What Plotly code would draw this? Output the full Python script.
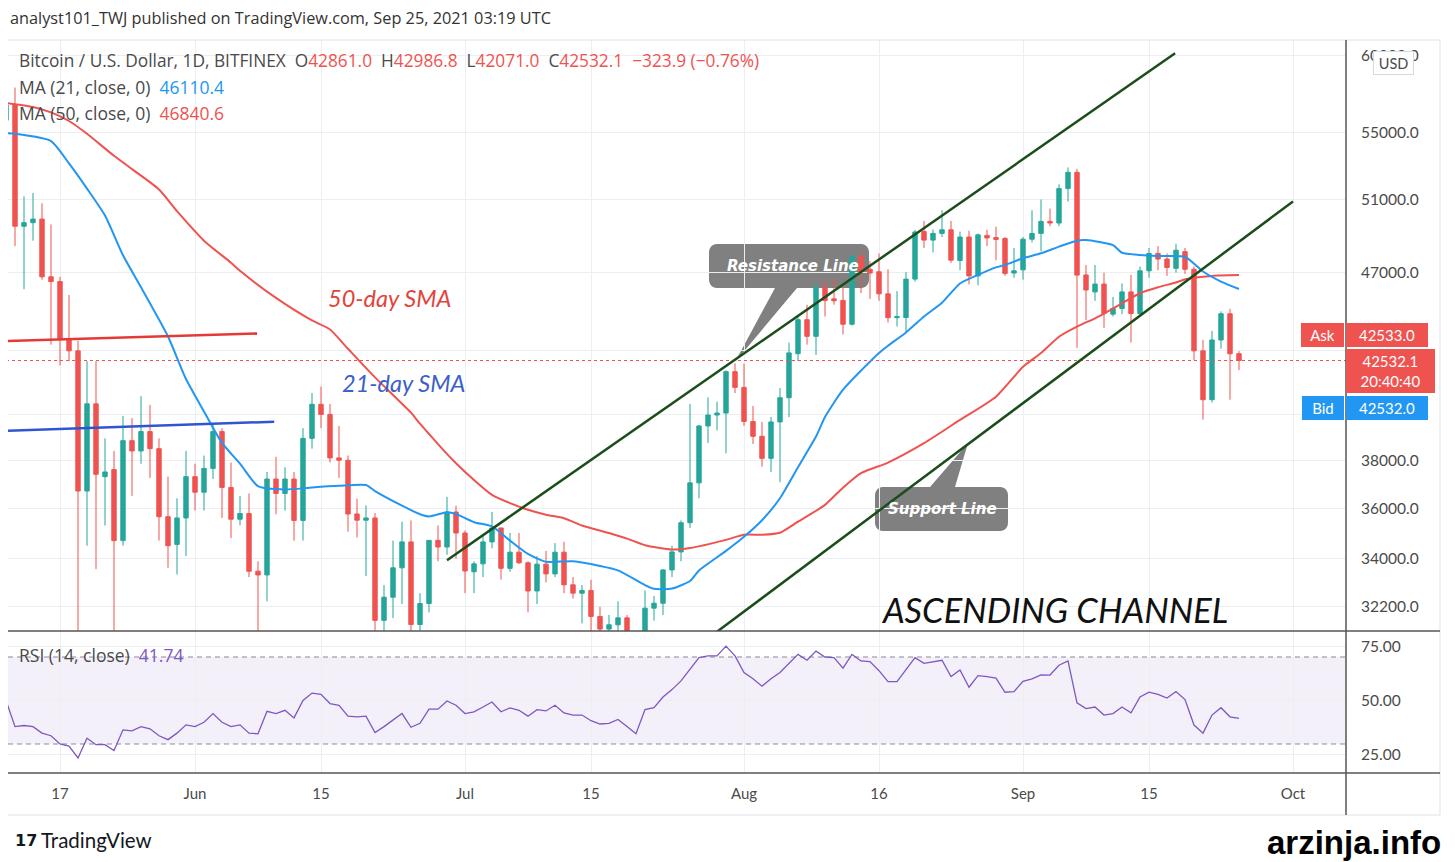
import math
import pandas as pd
import plotly.graph_objects as go

# ---------------- data ----------------
dates = pd.date_range("2021-05-11", "2021-09-25", freq="D")

opens = [55800, 56770, 49500, 49700, 49900, 46750, 46500, 43550, 43000, 36700, 40500, 37300, 37600, 34700, 38850, 38400, 39250, 38500, 35650, 34550, 35600,
         37300, 36650, 37650, 39250, 36850, 35550, 35780, 33520, 33380, 37200, 36600, 37200, 35500, 38950, 40480, 40020, 38100, 38000, 35760, 35510, 35600, 31710, 32550, 33650, 34650, 31560, 32320, 34710, 34450, 35840,
         35000, 33500, 33800, 34650, 35200, 33630, 34250, 33840, 32780, 33790, 33420, 34250, 33010, 32700, 32800, 31850, 31400, 31550, 31800, 30800, 29800, 32150, 32330, 33570, 34260, 35410, 37040, 39500, 39990, 40080, 42000,
         41260, 39700, 39040, 38080, 39680, 40780, 42860, 44540, 43710, 46200, 45600, 45520, 44310, 47830, 47150, 47020, 45860, 44640, 44650, 46630, 49210, 48730, 49100, 49300, 47620, 48900, 46800, 48990, 48870, 48820, 46950,
         47120, 48780, 49100, 49770, 49680, 51650, 52610, 46850, 45960, 46370, 44820, 45110, 45960, 44850, 47070, 48000, 47700, 47200, 48100, 47150, 43000, 40690, 43530, 44840, 42861.0]
highs = [56900, 57900, 51200, 51400, 50800, 49600, 46750, 45800, 43500, 42500, 42500, 38950, 38400, 39950, 39850, 40850, 40450, 38950, 37300, 36400, 38400,
         37850, 38200, 39550, 39400, 37900, 36500, 36600, 33900, 37500, 38150, 37700, 37500, 39400, 41000, 41300, 40500, 39500, 38200, 36380, 36110, 35800, 33000, 34700, 35450, 35500, 32700, 34700, 35300, 36460, 36100,
         35100, 33900, 34900, 35840, 35200, 35000, 35000, 33900, 34100, 34300, 34600, 34650, 33300, 33000, 33200, 32200, 31900, 32400, 31900, 31000, 32800, 32600, 33600, 34500, 35500, 40500, 39550, 40800, 40600, 42060, 42400,
         42380, 40400, 39680, 39900, 41230, 43400, 44700, 45300, 46400, 46600, 46700, 46200, 47900, 48150, 47600, 48000, 47150, 46000, 47000, 49300, 49800, 49320, 50400, 49800, 49200, 49250, 49100, 49300, 49480, 48900, 48300,
         48900, 50400, 51020, 50500, 51900, 52900, 52820, 47380, 47380, 46970, 45700, 46400, 46850, 47300, 48300, 48400, 48000, 48530, 48300, 47300, 43530, 43980, 44960, 45090, 42986.8]
lows = [54100, 48400, 46100, 48700, 46600, 43300, 42300, 42500, 30000, 34500, 33600, 35300, 31200, 34500, 36500, 37850, 37250, 34700, 33650, 33400, 34100,
        35900, 35900, 37200, 35600, 34800, 35300, 33300, 31000, 32400, 35750, 35900, 34700, 34700, 38500, 39400, 37900, 37250, 35050, 34820, 33340, 31300, 28800, 31790, 32300, 31300, 30200, 32000, 33900, 34150, 34000,
        32700, 32700, 33300, 34400, 33200, 33500, 33800, 32000, 32300, 33100, 33300, 32700, 32500, 31600, 31200, 31100, 31200, 31200, 30500, 29300, 29500, 31700, 31900, 33300, 33900, 35200, 36400, 38750, 39300, 38300, 41000,
        39500, 38700, 37720, 37500, 37070, 39900, 42500, 43300, 42800, 44700, 45300, 43800, 44250, 45900, 45600, 45500, 44400, 44200, 43870, 46500, 48300, 48060, 48900, 47500, 47100, 46350, 46300, 48400, 47630, 46800, 46700,
        46600, 48600, 48120, 49500, 49500, 50900, 43140, 44520, 45500, 44120, 44700, 44820, 43400, 44700, 46700, 47100, 46800, 46970, 46900, 42560, 39780, 40560, 43100, 40690, 42071.0]
closes = [56770, 49500, 49700, 49900, 46750, 46500, 43550, 43000, 36700, 40500, 37400, 37500, 34700, 38850, 38400, 39250, 38500, 35650, 34500, 35600, 37300,
          36650, 37650, 39250, 36850, 35550, 35780, 33520, 33380, 37200, 36600, 37200, 35500, 38950, 40480, 40020, 38100, 38000, 35760, 35510, 35600, 31710, 32550, 33650, 34650, 31560, 32320, 34710, 34450, 35840, 35000,
          33530, 33800, 34650, 35200, 33630, 34250, 33840, 32780, 33790, 33420, 34250, 33010, 32700, 32800, 31850, 31400, 31550, 31800, 30800, 29800, 32150, 32330, 33570, 34260, 35410, 37040, 39500, 39990, 40080, 42000, 41260,
          39700, 39040, 38080, 39680, 40780, 42900, 44540, 43710, 46200, 45520, 45500, 44310, 47830, 47020, 46950, 45860, 44640, 44700, 46630, 49180, 48730, 49100, 49300, 47640, 48900, 46800, 49020, 48850, 48770, 46930, 47070,
          48780, 49100, 49770, 49680, 51650, 52610, 46840, 46060, 46370, 44850, 45110, 45960, 44850, 47070, 48000, 47700, 47250, 48180, 47150, 43000, 40690, 43530, 44840, 42856.0, 42532.1]

rsi = [50, 38, 38.5, 38, 35, 33.8, 30, 29, 23.6, 32.7, 29.7, 29.7, 27, 36.5, 36, 38, 37, 33.8, 32, 35, 38.8,
       38, 40, 44, 40, 38, 38.8, 35, 34.7, 45, 44, 45.5, 42, 50, 53.4, 52.8, 48.6, 47.8, 42.8, 42.5, 42.8, 35.3, 38, 41, 44, 37.7, 39.5, 46, 46, 49.8, 47.8,
       44, 44.8, 47, 49.3, 44.8, 46.6, 45.5, 42.8, 45.8, 45.2, 47.8, 44.3, 43.3, 43.3, 40.7, 39.2, 39.5, 41.3, 38, 34.7, 45.8, 46.7, 51.6, 55, 59, 64.4, 69.7, 70.5, 70.5, 75, 70.5,
       62.9, 60, 56.6, 60, 62.9, 67, 71.2, 68.5, 72.7, 70, 69.7, 64.9, 71.2, 68.2, 67.9, 63.7, 58.7, 58.7, 64, 69.7, 67.1, 67.9, 68.5, 61, 64, 56.1, 61.4, 61, 60.3, 53.8, 54.1,
       58.8, 59.9, 61.8, 61.7, 66.2, 68.2, 48.9, 46.3, 47, 43.3, 44, 47, 44.3, 51.6, 53.8, 52.8, 51.1, 54.1, 50.4, 38.7, 35, 43.3, 46.7, 42.5, 41.74]

# moving averages (day offset from 2021-05-12, value)
ma21_day = [-1, 0, 4, 6, 8, 10, 12, 14, 17, 19, 21, 23, 25, 27, 30, 33, 36, 39, 40, 43, 45, 46, 48, 49, 51, 53, 55, 57, 59, 62, 65, 67, 70, 71, 73, 75, 76, 79, 81, 83, 85, 87, 89, 90, 92, 94, 96, 97, 99, 101, 103, 105, 107, 109, 110, 112, 114, 116, 118, 119, 122, 123, 125, 127, 130, 132, 134, 136]
ma21_val = [55000, 54950, 54500, 53140, 51650, 50100, 47900, 46200, 43700, 41650, 40150, 38750, 37850, 36900, 36760, 36850, 36920, 36950, 36700, 36100, 35750, 35660, 35830, 35760, 35430, 35260, 34700, 34180, 33880, 33900, 33720, 33550, 33000, 32860, 32870, 33150, 33550, 34300, 34850, 35510, 36400, 37700, 39030, 39900, 41150, 42050, 42900, 43250, 43900, 44700, 45400, 46400, 46850, 47250, 47380, 47740, 48010, 48370, 48700, 48730, 48450, 48040, 47920, 47860, 47820, 47030, 46500, 46110.4]
ma50_day = [-1, 2, 4, 6, 8, 11, 13, 16, 18, 21, 24, 25, 29, 33, 35, 37, 40, 44, 45, 47, 49, 51, 53, 55, 57, 59, 61, 63, 66, 68, 70, 73, 75, 79, 81, 83, 85, 87, 90, 92, 94, 97, 101, 105, 109, 112, 114, 116, 118, 120, 121, 123, 125, 127, 129, 130, 133, 136]
ma50_val = [56900, 56640, 56300, 55750, 54950, 53600, 52800, 51600, 50350, 48700, 47500, 47070, 45650, 44500, 44050, 43100, 41730, 40100, 39600, 38700, 37870, 37160, 36540, 36200, 35930, 35730, 35590, 35300, 35000, 34780, 34520, 34350, 34410, 34730, 34930, 34930, 35010, 35450, 36130, 36840, 37450, 37900, 38740, 39770, 40830, 42230, 42890, 43690, 44190, 44610, 44850, 45370, 45890, 46200, 46450, 46620, 46800, 46840.6]

# analyst drawings
resist_x = ["2021-06-29 00:00", "2021-09-17 21:36"]
resist_y = [33940, 60180]
support_x = ["2021-07-27 02:40", "2021-10-01 00:00"]
support_y = [30860, 50910]
red_level_x = ["2021-05-10 21:20", "2021-06-07 21:36"]
red_level_y = [43480, 43850]
blue_level_x = ["2021-05-10 21:20", "2021-06-09 19:12"]
blue_level_y = [39280, 39690]

ask_price, bid_price, countdown = 42533.0, 42532.0, "20:40:40"

price_ticks = [60000, 55000, 51000, 47000, 43000, 40000, 38000, 36000, 34000, 32200]
price_labels = ["60000.0", "55000.0", "51000.0", "47000.0", "", "", "38000.0", "36000.0", "34000.0", "32200.0"]
rsi_ticks = [75, 50, 25]
date_ticks = ["2021-05-17", "2021-06-01", "2021-06-15", "2021-07-01", "2021-07-15",
              "2021-08-01", "2021-08-16", "2021-09-01", "2021-09-15", "2021-10-01"]
date_labels = ["17", "Jun", "15", "Jul", "15", "Aug", "16", "Sep", "15", "Oct"]

# ---------------- style / geometry ----------------
OFF = 8                      # page offset of the figure (browser body margin)
W, H = 1455 - OFF, 862 - OFF
L, R, T, B = 0, 109, 32, 89
PW, PH = W - L - R, H - T - B
GREEN, RED = "#26a69a", "#ef5350"
BLUE_MA, RED_MA = "#2196f3", "#ef5350"
GRID = "#eceef2"
TXT = "#4a4a4a"
FONT = "Lato, sans-serif"
LFONT = "Open Sans, sans-serif"


def px(x):
    """page pixel x -> paper"""
    return (x - OFF - L) / PW


def py(y):
    """page pixel y -> paper"""
    return (H - B - (y - OFF)) / PH


split = py(631)
xrange_ = ["2021-05-11 05:20", "2021-10-06 21:20"]
y_lo, y_hi = 31331, 61094
base = pd.Timestamp("2021-05-12")
ma21_x = [base + pd.Timedelta(days=d) for d in ma21_day]
ma50_x = [base + pd.Timedelta(days=d) for d in ma50_day]

fig = go.Figure()
fig.add_trace(go.Candlestick(
    x=dates, open=opens, high=highs, low=lows, close=closes,
    increasing=dict(line=dict(color=GREEN, width=1), fillcolor=GREEN),
    decreasing=dict(line=dict(color=RED, width=1), fillcolor=RED),
    whiskerwidth=0, hoverinfo="skip", xaxis="x", yaxis="y"))
fig.add_trace(go.Scatter(x=ma50_x, y=ma50_val, mode="lines", line=dict(color=RED_MA, width=2, shape="spline", smoothing=0.6),
                         xaxis="x", yaxis="y", hoverinfo="skip"))
fig.add_trace(go.Scatter(x=ma21_x, y=ma21_val, mode="lines", line=dict(color=BLUE_MA, width=2, shape="spline", smoothing=0.6),
                         xaxis="x", yaxis="y", hoverinfo="skip"))
fig.add_trace(go.Scatter(x=["2021-05-01", "2021-10-10"], y=[closes[-1], closes[-1]], mode="lines",
                         line=dict(color=RED, width=1, dash="dot"), xaxis="x", yaxis="y", hoverinfo="skip"))
fig.add_trace(go.Scatter(x=red_level_x, y=red_level_y, mode="lines", line=dict(color="#e53935", width=2.5),
                         xaxis="x", yaxis="y", hoverinfo="skip"))
fig.add_trace(go.Scatter(x=blue_level_x, y=blue_level_y, mode="lines", line=dict(color="#2f55d4", width=2.5),
                         xaxis="x", yaxis="y", hoverinfo="skip"))
fig.add_trace(go.Scatter(x=resist_x, y=resist_y, mode="lines", line=dict(color="#1b4d1b", width=2.5),
                         xaxis="x", yaxis="y", hoverinfo="skip"))
fig.add_trace(go.Scatter(x=support_x, y=support_y, mode="lines", line=dict(color="#1b4d1b", width=2.5),
                         xaxis="x", yaxis="y", hoverinfo="skip"))
fig.add_trace(go.Scatter(x=dates, y=rsi, mode="lines", line=dict(color="#7e57c2", width=1.3),
                         xaxis="x2", yaxis="y2", hoverinfo="skip"))

tickfont = dict(family=FONT, size=15.5, color=TXT)
fig.update_layout(
    width=W, height=H, margin=dict(l=L, r=R, t=T, b=B, autoexpand=False),
    paper_bgcolor="white", plot_bgcolor="white", showlegend=False,
    font=dict(family=FONT, color=TXT, size=14),
    xaxis=dict(type="date", range=xrange_, domain=[0, 1], anchor="y", showticklabels=False,
               tickvals=date_ticks, showgrid=True, gridcolor=GRID, gridwidth=1, zeroline=False,
               showline=False, ticks="", rangeslider=dict(visible=False), fixedrange=True),
    yaxis=dict(type="log", range=[math.log10(y_lo), math.log10(y_hi)], domain=[split, 1], side="right",
               anchor="x", tickvals=price_ticks, ticktext=price_labels,
               showgrid=True, gridcolor=GRID, ticks="outside", ticklen=11, tickcolor="rgba(0,0,0,0)",
               tickfont=tickfont, zeroline=False, showline=False, fixedrange=True),
    xaxis2=dict(type="date", range=xrange_, domain=[0, 1], anchor="y2", matches="x",
                tickvals=date_ticks, ticktext=date_labels, showgrid=True, gridcolor=GRID,
                ticks="outside", ticklen=7, tickcolor="rgba(0,0,0,0)", tickfont=dict(family=FONT, size=15, color=TXT),
                zeroline=False, showline=False, fixedrange=True),
    yaxis2=dict(range=[16.67, 81.95], domain=[0, split], side="right", anchor="x2",
                tickvals=rsi_ticks, ticktext=[f"{v:.2f}" for v in rsi_ticks], showgrid=True, gridcolor=GRID,
                ticks="outside", ticklen=11, tickcolor="rgba(0,0,0,0)", tickfont=tickfont,
                zeroline=False, showline=False, fixedrange=True),
)


def rounded_poly(x0, y0, x1, y1, r, top_ptr=None, bottom_ptr=None):
    pts = []

    def arc(cx, cy, a0, a1):
        for k in range(7):
            a = math.radians(a0 + (a1 - a0) * k / 6)
            pts.append((cx + r * math.cos(a), cy + r * math.sin(a)))
    arc(x0 + r, y0 + r, 180, 270)
    if top_ptr:
        pts.extend(top_ptr)
    arc(x1 - r, y0 + r, 270, 360)
    arc(x1 - r, y1 - r, 0, 90)
    if bottom_ptr:
        pts.extend(bottom_ptr)
    arc(x0 + r, y1 - r, 90, 180)
    return "M " + " L ".join(f"{px(x):.5f},{py(y):.5f}" for x, y in pts) + " Z"


shapes = []
shapes.append(dict(type="rect", xref="paper", yref="y2", x0=0, x1=1, y0=30, y1=70,
                   fillcolor="rgba(126,87,194,0.09)", line=dict(width=0), layer="below"))
for lv in (70, 50, 30):
    shapes.append(dict(type="line", xref="paper", yref="y2", x0=0, x1=1, y0=lv, y1=lv,
                       line=dict(color="#8a8d96", width=1, dash="5px,4px"), layer="below"))
shapes.append(dict(type="path", xref="paper", yref="paper",
                   path=rounded_poly(709, 244, 869, 288, 8, bottom_ptr=[(797, 288), (735, 362), (775, 288)]),
                   fillcolor="#808080", line=dict(width=0), layer="between"))
shapes.append(dict(type="path", xref="paper", yref="paper",
                   path=rounded_poly(875, 487, 1008, 531, 8, top_ptr=[(930, 487), (968, 443), (955, 487)]),
                   fillcolor="#808080", line=dict(width=0), layer="between"))
shapes.append(dict(type="rect", xref="paper", yref="paper", x0=px(5), x1=px(1440), y0=py(815), y1=1,
                   line=dict(color="#dfe2e8", width=1), fillcolor="rgba(0,0,0,0)", layer="above"))
shapes.append(dict(type="line", xref="paper", yref="paper", x0=0, x1=px(1440), y0=split, y1=split,
                   line=dict(color="#555555", width=1.5), layer="above"))
shapes.append(dict(type="line", xref="paper", yref="paper", x0=0, x1=px(1440), y0=0, y1=0,
                   line=dict(color="#555555", width=1.5), layer="above"))
shapes.append(dict(type="line", xref="paper", yref="paper", x0=1, x1=1, y0=py(815), y1=1,
                   line=dict(color="#555555", width=1.5), layer="above"))
fig.update_layout(shapes=shapes)

chg = closes[-1] - closes[-2]
pct = chg / closes[-2] * 100
sp = "\u00a0\u00a0"


def red(s):
    return f"<span style='color:{RED}'>{s}</span>"


legend1 = ("Bitcoin / U.S. Dollar, 1D, BITFINEX" + sp + "O" + red(f"{opens[-1]:.1f}") + sp + "H" + red(f"{highs[-1]:.1f}")
           + sp + "L" + red(f"{lows[-1]:.1f}") + sp + "C" + red(f"{closes[-1]:.1f}") + sp
           + red(f"\u2212{abs(chg):.1f} (\u2212{abs(pct):.2f}%)"))
legend2 = f"MA (21, close, 0)\u00a0\u00a0<span style='color:{BLUE_MA}'>{ma21_val[-1]:.1f}</span>"
legend3 = f"MA (50, close, 0)\u00a0\u00a0<span style='color:{RED_MA}'>{ma50_val[-1]:.1f}</span>"
legend4 = f"RSI (14, close)\u00a0\u00a0<span style='color:#7e57c2'>{rsi[-1]:.2f}</span>"

ann = []


def text(x, y, s, size=15, color=TXT, xanchor="left", family=LFONT, **kw):
    ann.append(dict(xref="paper", yref="paper", x=px(x), y=py(y), text=s, showarrow=False,
                    xanchor=xanchor, yanchor="middle", font=dict(family=family, size=size, color=color), **kw))


text(8, 18, "analyst101_TWJ published on TradingView.com, Sep 25, 2021 03:19 UTC", size=16.3, color="#333333")
text(17, 61, legend1, size=17.3)
text(17, 87, legend2, size=17.5)
text(17, 113, legend3, size=17.5)
text(17, 655, legend4, size=17.5)
text(390, 298, "<i>50-day SMA</i>", size=23.5, color="#e0443a", xanchor="center", family=FONT)
text(403, 383, "<i>21-day SMA</i>", size=23.5, color="#3a5fcd", xanchor="center", family=FONT)
text(1054, 609, "<i>ASCENDING CHANNEL</i>", size=34.5, color="#111111", xanchor="center", family=FONT)
text(793, 266, "<b><i>Resistance Line</i></b>", size=15, color="white", xanchor="center", family="DejaVu Sans")
text(942, 509, "<b><i>Support Line</i></b>", size=15, color="white", xanchor="center", family="DejaVu Sans")


def box(xc, yc, s, w, h, bg, fg="white", border=None, size=15):
    ann.append(dict(xref="paper", yref="paper", x=px(xc), y=py(yc), text=s, showarrow=False,
                    xanchor="center", yanchor="middle", width=w, height=h, bgcolor=bg, borderpad=2,
                    bordercolor=border or bg, borderwidth=1 if border else 0, align="center",
                    font=dict(family=FONT, size=size, color=fg)))


box(1322, 335, "Ask", 39, 20, RED)
box(1387, 335, f"{ask_price:.1f}", 78, 20, RED)
box(1390.5, 371, f"{closes[-1]:.1f}<br>{countdown}", 85, 40, RED)
box(1322.5, 408, "Bid", 38, 20, "#2196f3")
box(1387, 408, f"{bid_price:.1f}", 78, 20, "#2196f3")
box(1393, 63, "USD", 35, 18, "white", fg=TXT, border="#d6d9df", size=14.5)

text(13, 840, "<b>17</b>", size=16, color="#131722", family="DejaVu Sans")
text(39, 840, "TradingView", size=20.5, color="#131722", family=FONT)
text(1354, 843, "<b>arzinja.info</b>", size=33, color="#000000", xanchor="center", family="Liberation Sans")

fig.update_layout(annotations=ann)
fig.write_html("out.html")
